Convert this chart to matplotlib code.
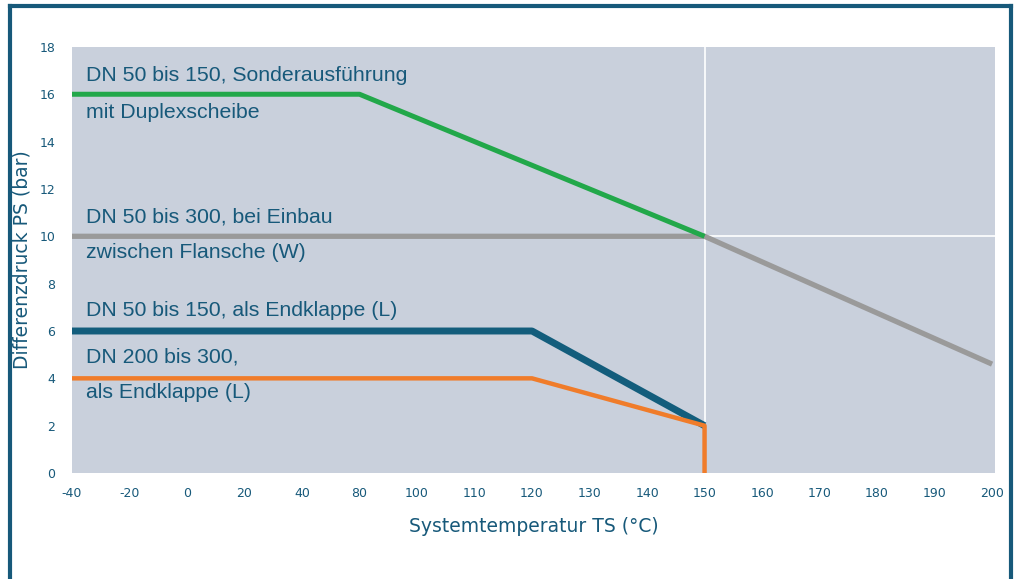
# Differenzdruck over Systemtemperatur chart for butterfly valve variants
import matplotlib.pyplot as plt
from matplotlib.lines import Line2D

# x axis categories (evenly spaced labels, as on the original sheet)
x_labels = ["-40", "-20", "0", "20", "40", "80", "100", "110", "120", "130",
            "140", "150", "160", "170", "180", "190", "200"]
y_ticks = [0, 2, 4, 6, 8, 10, 12, 14, 16, 18]

# series given as (category index, pressure in bar)
green_x = [0, 5, 11]
green_y = [16, 16, 10]
gray_x = [0, 11, 16]
gray_y = [10, 10, 4.6]
blue_x = [0, 8, 11]
blue_y = [6, 6, 2]
orange_x = [0, 8, 11, 11]
orange_y = [4, 4, 2, 0]

teal = "#17597a"
bg = "#c9d0dc"

fig = plt.figure(figsize=(10.21, 5.79), dpi=100)
ax = fig.add_axes([0.0705, 0.183, 0.904, 0.736])
ax.set_facecolor(bg)

# only two white grid lines: at 150 degC and at 10 bar (right part)
ax.axvline(11, color="white", lw=1.2, zorder=1)
ax.axhline(10, color="white", lw=1.2, zorder=1)

ax.plot(gray_x, gray_y, color="#9a9a9a", lw=3.8, solid_capstyle="butt", zorder=3)
ax.plot(green_x, green_y, color="#22a84a", lw=3.6, solid_capstyle="butt", zorder=3)
ax.plot(blue_x, blue_y, color="#135d7c", lw=5, solid_capstyle="butt", zorder=3)
ax.plot(orange_x, orange_y, color="#f07c2a", lw=3.2, solid_capstyle="butt", zorder=4)

ax.set_xlim(0, 16.05)
ax.set_ylim(0, 18)
ax.set_xticks(range(len(x_labels)))
ax.set_xticklabels(x_labels)
ax.set_yticks(y_ticks)
ax.tick_params(length=0, colors=teal, labelsize=9)
ax.tick_params(axis="x", pad=10)
ax.tick_params(axis="y", pad=12)
for s in ax.spines.values():
    s.set_visible(False)

ax.set_xlabel("Systemtemperatur TS (°C)", color=teal, fontsize=13.5,
              labelpad=12)
ax.set_ylabel("Differenzdruck PS (bar)", color=teal, fontsize=13.5, labelpad=6)

labels = [
    (16.8, "DN 50 bis 150, Sonderausführung"),
    (15.25, "mit Duplexscheibe"),
    (10.8, "DN 50 bis 300, bei Einbau"),
    (9.3, "zwischen Flansche (W)"),
    (6.85, "DN 50 bis 150, als Endklappe (L)"),
    (4.9, "DN 200 bis 300,"),
    (3.42, "als Endklappe (L)"),
]
for y, t in labels:
    ax.text(0.25, y, t, color=teal, fontsize=15.3, family="Liberation Sans",
            va="center", ha="left", zorder=5)

# teal frame around the figure
for xs, ys in [([0.010, 0.010], [0.0, 0.99]),
               ([0.990, 0.990], [0.0, 0.99]),
               ([0.010, 0.990], [0.99, 0.99])]:
    fig.add_artist(Line2D(xs, ys, color=teal, lw=3, transform=fig.transFigure))

fig.savefig("out.png", dpi=100)
